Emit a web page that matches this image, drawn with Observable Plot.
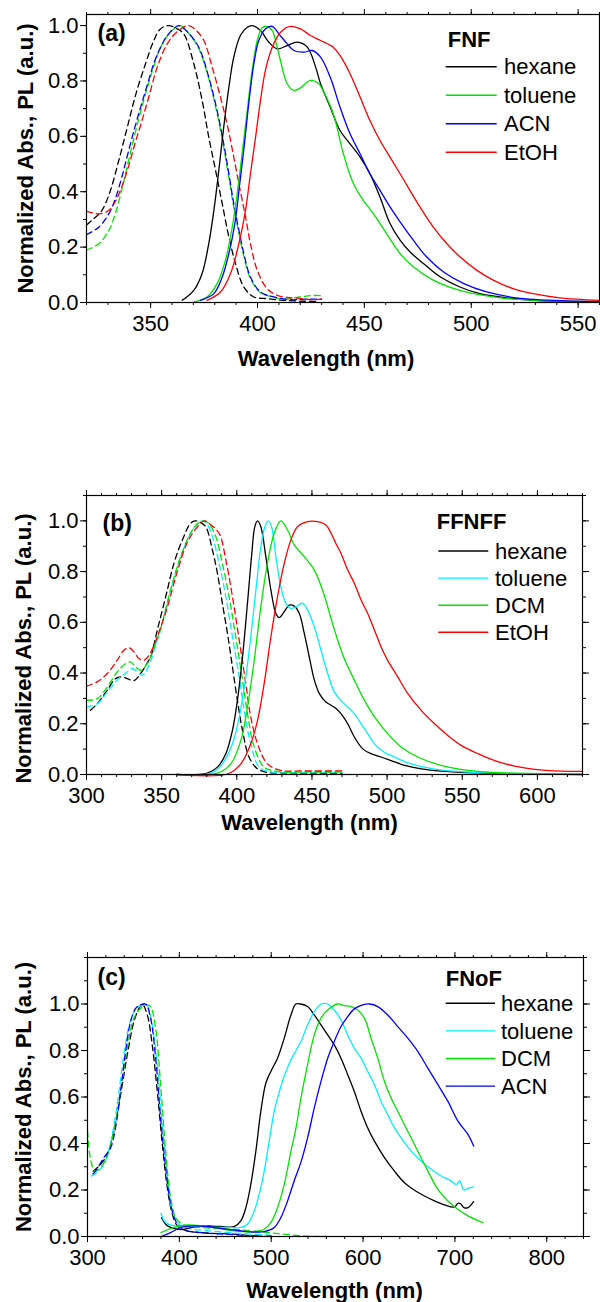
<!DOCTYPE html>
<html><head><meta charset="utf-8">
<script src="https://cdn.jsdelivr.net/npm/d3@7"></script>
<script src="https://cdn.jsdelivr.net/npm/@observablehq/plot@0.6"></script>
<style>
body{margin:0;background:#fff;}
#wrap{position:relative;width:600px;height:1302px;overflow:hidden;background:#fff;}
#wrap svg{position:absolute;left:0;}
</style></head><body><div id="wrap"></div>
<script>
const FONT = "'Liberation Sans', Arial, Helvetica, sans-serif";
const xLabel = "Wavelength (nm)";
const yLabel = "Normalized Abs., PL (a.u.)";

// ---------- Panel (a): FNF ----------
const fnfSolvents = ["hexane", "toluene", "ACN", "EtOH"];
const fnfAbsHexane = [[320,0.28],[323,0.30],[327,0.33],[331,0.40],[335,0.51],[339,0.63],[343,0.75],[347.6,0.862],[351.5,0.946],[354.6,0.988],[358.5,1.0],[362,0.99],[365.5,0.97],[370.2,0.862],[374.1,0.73],[377.2,0.597],[380.4,0.477],[383.5,0.357],[386.6,0.237],[389.7,0.141],[393.6,0.056],[398.3,0.02],[404.5,0.014],[412,0.008],[420,0.005],[428,0.004]];
const fnfAbsToluene = [[320,0.189],[325.9,0.213],[330.5,0.261],[333.5,0.321],[336.6,0.41],[339.6,0.51],[342.7,0.61],[345.7,0.7],[348.8,0.785],[351.8,0.86],[354.9,0.925],[359.5,0.978],[364,1.0],[368,0.97],[372.2,0.922],[377,0.814],[380.8,0.693],[383.9,0.573],[386.3,0.465],[388.6,0.357],[391,0.261],[393.3,0.177],[396.4,0.092],[401,0.038],[407,0.02],[412,0.012],[420,0.02],[425,0.025],[430,0.025]];
const fnfAbsACN = [[320,0.245],[325.9,0.273],[330.5,0.321],[333.5,0.375],[336.6,0.455],[339.6,0.545],[342.7,0.635],[345.7,0.715],[348.8,0.795],[351.8,0.87],[354.9,0.925],[357.9,0.965],[361.8,0.995],[363.3,1.0],[367.5,0.975],[372.5,0.922],[377.2,0.814],[381.1,0.693],[384.2,0.573],[386.6,0.465],[388.9,0.357],[391.3,0.261],[393.6,0.177],[396.7,0.092],[401.4,0.038],[407.6,0.02],[416,0.01],[422,0.012],[430,0.012]];
const fnfAbsEtOH = [[320,0.33],[325.9,0.32],[330.5,0.333],[333.5,0.365],[336.6,0.42],[339.6,0.49],[342.7,0.575],[345.7,0.65],[349.1,0.741],[353.1,0.85],[357.8,0.934],[362.4,0.978],[367.5,1.0],[371,0.985],[374.9,0.946],[378.8,0.85],[382.7,0.741],[386.1,0.633],[388.9,0.525],[391.6,0.417],[394.4,0.309],[396.7,0.213],[399.9,0.116],[404.5,0.05],[409.2,0.026],[413.9,0.018],[420,0.015],[425,0.01],[430,0.012]];
const fnfPLHexane = [[364.8,0.008],[370.2,0.044],[374.1,0.105],[377.2,0.213],[379.6,0.333],[381.9,0.477],[384.2,0.633],[386.6,0.777],[388.9,0.886],[392,0.964],[395.2,0.994],[397.5,1.0],[401.4,0.982],[405.3,0.94],[409.2,0.916],[413.9,0.928],[418.6,0.94],[423.3,0.922],[427.2,0.85],[429.5,0.79],[434,0.706],[438.6,0.621],[443.3,0.573],[448,0.525],[452.6,0.465],[457.3,0.381],[462,0.285],[466.7,0.225],[471.3,0.183],[477.6,0.141],[485.4,0.093],[494.7,0.056],[504,0.032],[516.5,0.017],[529,0.008],[545,0.004],[560,0.002]];
const fnfPLToluene = [[370.2,0.002],[376.4,0.02],[381.1,0.068],[385,0.153],[388.2,0.273],[390.5,0.393],[392.8,0.537],[395.2,0.693],[397.5,0.838],[399.9,0.946],[402.2,0.992],[404.5,0.996],[406.9,0.982],[409.2,0.922],[411.5,0.85],[413.9,0.79],[417,0.766],[420.1,0.775],[424.8,0.802],[428.7,0.79],[431,0.76],[435.5,0.681],[440.2,0.537],[444.9,0.429],[449.5,0.369],[454.2,0.321],[460.4,0.249],[466.7,0.177],[472.9,0.129],[482.2,0.081],[494.7,0.044],[513.4,0.017],[531,0.008],[560,0.003]];
const fnfPLACN = [[373.3,0.008],[379.6,0.032],[383.5,0.092],[386.6,0.177],[389.4,0.285],[391.7,0.429],[393.9,0.573],[395.9,0.718],[398.3,0.862],[400.6,0.946],[403.7,0.988],[406.9,0.997],[410,0.97],[413.9,0.934],[417,0.91],[421.7,0.904],[425.6,0.91],[429.5,0.886],[434,0.814],[438.6,0.706],[443.3,0.609],[448,0.537],[452.6,0.465],[457.3,0.405],[462,0.345],[466.7,0.291],[472.9,0.225],[479.1,0.165],[486.9,0.111],[496.3,0.069],[507.2,0.038],[521.2,0.017],[544.5,0.006],[560,0.004]];
const fnfPLEtOH = [[376.4,0.008],[382.7,0.038],[387.4,0.105],[391.3,0.213],[394.4,0.333],[396.7,0.465],[399.1,0.597],[401.4,0.73],[403.7,0.838],[406.9,0.922],[410.8,0.976],[415.4,0.997],[420.1,0.988],[424.8,0.964],[429.5,0.946],[435.4,0.922],[438.6,0.892],[443.3,0.826],[448,0.742],[452.6,0.657],[457.3,0.585],[462,0.525],[466.7,0.465],[471.3,0.405],[476,0.345],[482.2,0.273],[488.5,0.213],[494.7,0.165],[502.5,0.117],[510.3,0.081],[519.6,0.05],[529,0.032],[541.4,0.017],[560,0.008]];

// ---------- Panel (b): FFNFF ----------
const ffnffSolvents = ["hexane", "toluene", "DCM", "EtOH"];
const ffnffAbsHexane = [[302.7,0.253],[307.1,0.279],[313.8,0.332],[319.3,0.378],[323.8,0.385],[327.1,0.378],[331.6,0.37],[336,0.398],[340.4,0.44],[342.7,0.464],[347.1,0.569],[352.7,0.701],[358.2,0.833],[363.8,0.925],[369.3,0.991],[372.5,1.0],[375.5,0.995],[379.3,0.977],[383.8,0.885],[387.1,0.793],[390.4,0.675],[393.8,0.556],[397.1,0.424],[400.4,0.292],[403.8,0.174],[408.2,0.068],[413.8,0.022],[420.4,0.008],[430,0.006],[450,0.005],[470,0.005]];
const ffnffAbsToluene = [[300,0.266],[307.1,0.279],[313.8,0.325],[320.4,0.372],[327.1,0.404],[330.4,0.418],[333.8,0.404],[337.1,0.391],[341.6,0.43],[346,0.51],[349.3,0.569],[356,0.727],[362.7,0.859],[369.3,0.951],[374,0.99],[377.5,1.0],[380.5,0.985],[383.8,0.938],[388.2,0.833],[392.7,0.701],[397.1,0.543],[401.6,0.385],[404.9,0.253],[409.3,0.121],[414.9,0.029],[422.7,0.01],[445,0.008],[470,0.008]];
const ffnffAbsDCM = [[300,0.292],[307.1,0.299],[313.8,0.345],[320.4,0.404],[326,0.437],[329.3,0.444],[332.7,0.424],[336,0.411],[340.4,0.437],[344.9,0.5],[349.3,0.575],[356,0.73],[362.7,0.86],[369.3,0.952],[374.5,0.992],[378.5,1.0],[382,0.985],[386,0.938],[390.4,0.833],[394.9,0.701],[399.3,0.543],[403.8,0.372],[407.1,0.24],[411.6,0.108],[418.2,0.029],[427.1,0.012],[450,0.01],[470,0.01]];
const ffnffAbsEtOH = [[300,0.348],[307.1,0.365],[313.8,0.398],[320.4,0.45],[324.9,0.49],[328.2,0.5],[331.6,0.483],[334.9,0.457],[338.2,0.45],[341.6,0.47],[344.9,0.51],[349.3,0.58],[353.8,0.66],[360.4,0.8],[367.1,0.915],[373.8,0.977],[378.5,1.0],[381.5,0.99],[388.2,0.951],[392.7,0.846],[397.1,0.701],[401.6,0.53],[406,0.358],[409.3,0.226],[413.8,0.121],[420.4,0.042],[429.3,0.016],[442.7,0.014],[470,0.014]];
const ffnffPLHexane = [[360,0],[380.4,0.005],[387.1,0.029],[392.7,0.082],[397.1,0.174],[400.4,0.292],[403.8,0.464],[407.1,0.675],[409.8,0.859],[412,0.977],[413.8,1.0],[416,0.977],[419.3,0.859],[422.7,0.727],[426,0.635],[428.2,0.619],[431.6,0.642],[434.9,0.668],[438.2,0.664],[441.6,0.635],[444.9,0.556],[448.2,0.464],[451.6,0.372],[454.9,0.319],[459.3,0.286],[462.7,0.273],[466,0.26],[469.3,0.24],[473.8,0.2],[478.2,0.148],[483.8,0.101],[489.3,0.082],[496,0.069],[502.7,0.055],[511.6,0.036],[522.7,0.022],[536,0.013],[553.8,0.007],[576,0.003],[630,0]];
const ffnffPLToluene = [[360,0],[382.7,0.005],[390.4,0.042],[397.1,0.121],[401.6,0.226],[406,0.385],[409.3,0.543],[412.7,0.727],[416,0.898],[418.7,0.977],[420.9,1.0],[423.1,0.977],[426,0.859],[429.3,0.74],[432.7,0.675],[436,0.655],[439.3,0.661],[443.8,0.675],[447.1,0.648],[451.6,0.582],[456,0.49],[460.4,0.4],[464.9,0.325],[469.3,0.292],[473.8,0.266],[478.2,0.24],[482.7,0.2],[487.1,0.161],[491.6,0.121],[498.2,0.088],[504.9,0.069],[513.8,0.046],[524.9,0.029],[538.2,0.016],[558.2,0.008],[587,0.003],[630,0]];
const ffnffPLDCM = [[360,0],[387.1,0.005],[396,0.042],[402.7,0.134],[407.1,0.266],[411.6,0.451],[416,0.661],[420.4,0.833],[424.9,0.951],[429.3,1.0],[433.8,0.964],[438.2,0.905],[444.9,0.859],[451.6,0.806],[458,0.71],[462.7,0.615],[467.1,0.53],[471.6,0.455],[478.2,0.372],[484.9,0.292],[491.6,0.227],[500.4,0.161],[509.3,0.108],[520.4,0.069],[536,0.036],[553.8,0.016],[576,0.007],[630,0.001]];
const ffnffPLEtOH = [[360,0],[393.8,0.002],[402.7,0.042],[409.3,0.121],[413.8,0.213],[418.2,0.358],[422.7,0.543],[427.1,0.701],[431.6,0.833],[436,0.925],[440.4,0.977],[447.1,0.997],[453.8,0.997],[459.3,0.984],[462.7,0.951],[466,0.91],[469.3,0.872],[473.8,0.806],[478.2,0.754],[482.7,0.688],[487.1,0.635],[491.6,0.569],[496,0.503],[500.4,0.45],[507.1,0.385],[513.8,0.319],[522.7,0.253],[531.6,0.2],[540.4,0.154],[549.3,0.115],[560.4,0.082],[571.6,0.055],[584.9,0.033],[598.2,0.02],[616,0.013],[630,0.012]];

// ---------- Panel (c): FNoF ----------
const fnofSolvents = ["hexane", "toluene", "DCM", "ACN"];
const fnofAbsHexane = [[306.2,0.281],[314.2,0.31],[321.5,0.353],[328.7,0.453],[336,0.61],[343.3,0.781],[350.5,0.924],[356,0.981],[359.6,1.0],[365.1,0.953],[370.5,0.824],[376,0.624],[381.5,0.396],[386.9,0.21],[392.4,0.096],[397.8,0.046],[408.7,0.024],[430,0.015],[459.6,0.01],[481.5,0.003],[490,0.002]];
const fnofAbsToluene = [[304,0.26],[310,0.275],[317.8,0.31],[325,0.4],[332.4,0.57],[339.6,0.78],[346.9,0.93],[354.2,0.985],[360,0.995],[364,1.0],[368,0.96],[371,0.9],[376,0.739],[381.5,0.481],[386.9,0.253],[392.4,0.11],[399.6,0.053],[410,0.035],[430,0.025],[460,0.015],[500,0.005]];
const fnofAbsDCM = [[300,0.453],[302.5,0.353],[305.1,0.303],[308,0.28],[314.2,0.296],[321.5,0.346],[328.7,0.453],[336,0.624],[343.3,0.81],[350.5,0.939],[357.8,0.981],[365.1,0.996],[368.7,0.989],[374.2,0.896],[379.6,0.653],[385.1,0.367],[390.5,0.167],[396,0.081],[403.3,0.053],[423.3,0.039],[459.6,0.031],[496,0.017],[532.4,0.003],[560,0.0]];
const fnofAbsACN = [[306,0.27],[308.7,0.281],[317.8,0.339],[325.1,0.381],[330.5,0.467],[336,0.624],[341.5,0.796],[346.9,0.924],[352.4,0.981],[357.8,0.996],[363.3,1.0],[368.7,0.939],[374.2,0.767],[379.6,0.51],[385.1,0.296],[390.5,0.139],[396,0.067],[403.3,0.031],[423.3,0.017],[460,0.008],[477.8,0.003],[500,0.001]];
const fnofPLHexane = [[380.7,0.081],[385.1,0.053],[390.5,0.039],[401.5,0.03],[415,0.04],[430,0.045],[445,0.043],[459.6,0.042],[466.9,0.067],[472.4,0.124],[477.8,0.224],[483.3,0.367],[488.7,0.539],[494.2,0.66],[499.6,0.71],[506.9,0.767],[514.2,0.853],[521.5,0.953],[526.9,1.0],[532,1.0],[539.6,0.989],[546.9,0.953],[554.2,0.91],[561.5,0.867],[568.7,0.824],[576,0.767],[583.3,0.696],[590.5,0.624],[597.8,0.539],[605.1,0.467],[612.4,0.41],[623.3,0.339],[634.2,0.281],[645.1,0.231],[656,0.199],[666.9,0.174],[677.8,0.153],[688.7,0.136],[699.6,0.127],[703.3,0.143],[706.2,0.141],[709.8,0.124],[714.2,0.124],[720.4,0.15]];
const fnofPLToluene = [[380,0.1],[385.1,0.06],[394.2,0.046],[408.7,0.046],[430.5,0.041],[452.4,0.039],[466.9,0.039],[474.2,0.053],[481.5,0.11],[486.9,0.181],[492.4,0.281],[497.8,0.41],[503.3,0.539],[508.7,0.62],[514.2,0.69],[521.5,0.76],[527,0.8],[532.4,0.839],[539.6,0.91],[546.9,0.967],[554.2,1.0],[561.5,1.0],[568.7,0.974],[576,0.931],[583.3,0.867],[590.5,0.81],[597.8,0.767],[605.1,0.71],[612.4,0.653],[619.6,0.581],[626.9,0.524],[634.2,0.467],[641.5,0.424],[652.4,0.367],[663.3,0.324],[674.2,0.289],[685.1,0.26],[696,0.239],[701.5,0.224],[705.1,0.239],[709.8,0.2],[714.2,0.207],[720.4,0.213]];
const fnofPLDCM = [[380,0.017],[394.2,0.039],[408.7,0.05],[423.3,0.046],[441.5,0.036],[459.6,0.024],[477.8,0.02],[492.4,0.031],[499.6,0.06],[506.9,0.124],[514.2,0.224],[521.5,0.367],[527,0.467],[532.4,0.596],[539.6,0.739],[546.9,0.867],[554.2,0.939],[561.5,0.974],[572.4,1.0],[579.6,0.993],[586.9,0.989],[594.2,0.974],[601.5,0.939],[608.7,0.853],[616,0.767],[623.3,0.667],[630.5,0.596],[637.8,0.539],[645.1,0.481],[652.4,0.424],[659.6,0.367],[666.9,0.31],[674.2,0.253],[681.5,0.203],[692.4,0.153],[703.3,0.117],[714.2,0.089],[730.5,0.06]];
const fnofPLACN = [[380,0],[390.5,0.017],[401.5,0.039],[416,0.046],[430.5,0.043],[452.4,0.031],[474.2,0.021],[492.4,0.021],[503.3,0.039],[510.5,0.081],[517.8,0.153],[525.1,0.24],[532.4,0.32],[539.6,0.424],[546.9,0.553],[554.2,0.667],[561.5,0.767],[568.7,0.839],[576,0.903],[583.3,0.946],[590.5,0.979],[599.6,0.996],[606.9,1.0],[616,0.989],[626.9,0.953],[637.8,0.903],[648.7,0.853],[659.6,0.796],[670.5,0.724],[681.5,0.653],[692.4,0.581],[703.3,0.496],[714.2,0.439],[720.4,0.389]];

// tick values
const fnfXMajor = [350,400,450,500,550];
const fnfXMinor = d3.range(320, 561, 10);
const ffnffXMajor = [300,350,400,450,500,550,600];
const ffnffXMinor = d3.range(300, 631, 10);
const fnofXMajor = [300,400,500,600,700,800];
const fnofXMinor = d3.range(300, 841, 20);
const yMajor = [0,0.2,0.4,0.6,0.8,1.0];

const BLACK = "#000000", GREEN = "#00e400", BLUE = "#0000ff", RED = "#ff0000", CYAN = "#00f0ff";

const panels = [
  {tag:"(a)", compound:"FNF", top:0, height:380, mt:14, mb:78, ml:86, mr:1,
   xDomain:[320,560], yDomain:[0,1.04], xMajor:fnfXMajor, xMinor:fnfXMinor, yMinor:d3.range(0,1.001,0.1),
   xl:{dx:-17, dy:56}, yl:{dx:-61, dy:0}, tg:{dx:11, dy:19},
   lg:{titleX:447.7, titleY:39, y0:66.7, step:28.5, x1:445.7, x2:496.7, tx:504},
   series:[
     {name:fnfSolvents[0], color:BLACK, abs:fnfAbsHexane, pl:fnfPLHexane},
     {name:fnfSolvents[1], color:GREEN, abs:fnfAbsToluene, pl:fnfPLToluene},
     {name:fnfSolvents[2], color:BLUE, abs:fnfAbsACN, pl:fnfPLACN},
     {name:fnfSolvents[3], color:RED, abs:fnfAbsEtOH, pl:fnfPLEtOH}]},
  {tag:"(b)", compound:"FFNFF", top:470, height:370, mt:25, mb:66, ml:86, mr:18,
   xDomain:[300,630], yDomain:[0,1.1], xMajor:ffnffXMajor, xMinor:ffnffXMinor, yMinor:d3.range(0,1.101,0.1),
   xl:{dx:-25, dy:48}, yl:{dx:-63, dy:13.5}, tg:{dx:16, dy:28},
   lg:{titleX:436.7, titleY:51.7, y0:81, step:27.1, x1:438.3, x2:488.3, tx:495},
   series:[
     {name:ffnffSolvents[0], color:BLACK, abs:ffnffAbsHexane, pl:ffnffPLHexane},
     {name:ffnffSolvents[1], color:CYAN, abs:ffnffAbsToluene, pl:ffnffPLToluene},
     {name:ffnffSolvents[2], color:GREEN, abs:ffnffAbsDCM, pl:ffnffPLDCM},
     {name:ffnffSolvents[3], color:RED, abs:ffnffAbsEtOH, pl:ffnffPLEtOH}]},
  {tag:"(c)", compound:"FNoF", top:930, height:372, mt:27, mb:66, ml:87, mr:17,
   xDomain:[300,840], yDomain:[0,1.2], xMajor:fnofXMajor, xMinor:fnofXMinor, yMinor:d3.range(0,1.201,0.1),
   xl:{dx:-1, dy:54}, yl:{dx:-64, dy:0}, tg:{dx:10, dy:20},
   lg:{titleX:445.7, titleY:48.3, y0:73.3, step:27.6, x1:445.7, x2:495, tx:501},
   series:[
     {name:fnofSolvents[0], color:BLACK, abs:fnofAbsHexane, pl:fnofPLHexane},
     {name:fnofSolvents[1], color:CYAN, abs:fnofAbsToluene, pl:fnofPLToluene},
     {name:fnofSolvents[2], color:GREEN, abs:fnofAbsDCM, pl:fnofPLDCM},
     {name:fnofSolvents[3], color:BLUE, abs:fnofAbsACN, pl:fnofPLACN}]}
];

function legendMark(p) {
  return () => {
    const g = d3.create("svg:g").attr("font-family", FONT).attr("fill", "#000").attr("text-anchor", "start");
    g.append("text").attr("x", p.lg.titleX).attr("y", p.lg.titleY).attr("dy", "0.35em")
      .attr("text-anchor", "start").attr("font-weight", "bold").attr("font-size", 22).text(p.compound);
    p.series.forEach((s, i) => {
      const y = p.lg.y0 + i * p.lg.step;
      g.append("line").attr("x1", p.lg.x1).attr("x2", p.lg.x2).attr("y1", y).attr("y2", y)
        .attr("stroke", s.color).attr("stroke-width", 1.4);
      g.append("text").attr("x", p.lg.tx).attr("y", y).attr("dy", "0.35em")
        .attr("text-anchor", "start").attr("font-size", 22).text(s.name);
    });
    return g.node();
  };
}

const blank = () => "";
function makePanel(p) {
  const absRows = p.series.flatMap(s => s.abs.map(([x, y]) => ({name: s.name, x, y})));
  const plRows = p.series.flatMap(s => s.pl.map(([x, y]) => ({name: s.name, x, y})));
  const svg = Plot.plot({
    width: 600, height: p.height,
    marginTop: p.mt, marginBottom: p.mb, marginLeft: p.ml, marginRight: p.mr,
    x: {domain: p.xDomain, label: null},
    y: {domain: p.yDomain, label: null},
    color: {domain: p.series.map(s => s.name), range: p.series.map(s => s.color)},
    style: {fontFamily: FONT, fontSize: "22px", color: "#000", background: "transparent", overflow: "visible"},
    marks: [
      Plot.line(absRows, {x: "x", y: "y", z: "name", stroke: "name", strokeWidth: 1.3, strokeDasharray: "6,4", curve: "catmull-rom"}),
      Plot.line(plRows, {x: "x", y: "y", z: "name", stroke: "name", strokeWidth: 1.3, curve: "catmull-rom"}),
      Plot.frame({stroke: "#000", strokeWidth: 1.2}),
      Plot.axisX({ticks: p.xMajor, tickSize: 6, tickPadding: 7, fontSize: 22, label: null, tickFormat: d => String(d)}),
      Plot.axisX({ticks: p.xMinor, tickSize: 3, label: null, tickFormat: blank}),
      Plot.axisX({anchor: "top", ticks: p.xMajor, tickSize: 6, label: null, tickFormat: blank}),
      Plot.axisX({anchor: "top", ticks: p.xMinor, tickSize: 3, label: null, tickFormat: blank}),
      Plot.axisY({ticks: yMajor, tickSize: 6, tickPadding: 2, fontSize: 22, label: null, tickFormat: d3.format(".1f")}),
      Plot.axisY({ticks: p.yMinor, tickSize: 3, label: null, tickFormat: blank}),
      Plot.axisY({anchor: "right", ticks: yMajor, tickSize: 6, label: null, tickFormat: blank}),
      Plot.axisY({anchor: "right", ticks: p.yMinor, tickSize: 3, label: null, tickFormat: blank}),
      Plot.text([xLabel], {frameAnchor: "bottom", dx: p.xl.dx, dy: p.xl.dy, text: d => d, fontWeight: "bold", fontSize: 22, lineAnchor: "middle"}),
      Plot.text([yLabel], {frameAnchor: "left", dx: p.yl.dx, dy: p.yl.dy, rotate: -90, text: d => d, fontWeight: "bold", fontSize: 22, lineAnchor: "middle", textAnchor: "middle"}),
      Plot.text([p.tag], {frameAnchor: "top-left", dx: p.tg.dx, dy: p.tg.dy, text: d => d, fontWeight: "bold", fontSize: 23, textAnchor: "start", lineAnchor: "middle"}),
      legendMark(p)
    ]
  });
  svg.style.top = p.top + "px";
  return svg;
}

const wrap = document.getElementById("wrap");
for (const p of panels) wrap.appendChild(makePanel(p));
</script>
</body></html>
